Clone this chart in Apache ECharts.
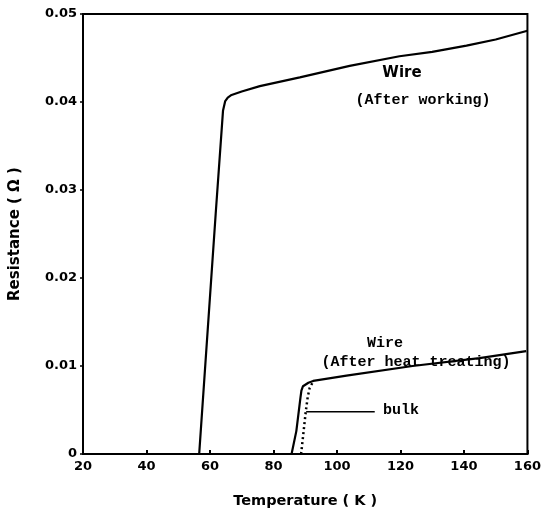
<!DOCTYPE html>
<html>
<head>
<meta charset="utf-8">
<script src="https://cdn.jsdelivr.net/npm/echarts@6/dist/echarts.min.js"></script>
<style>html,body{margin:0;padding:0;background:#fff;}#c{width:544px;height:520px;}</style>
</head>
<body>
<div id="c"></div>
<script>
// Wire (After working)
var workT = [20, 56.6, 58.9, 61.8, 64.1, 64.8, 65.6, 66.8, 70, 75.7, 88.3, 104, 119.7, 130, 140.8, 150, 160];
var workR = [0, 0, 0.0121, 0.0273, 0.0390, 0.0401, 0.0405, 0.0408, 0.0412, 0.0418, 0.0428, 0.0441, 0.0452, 0.0457, 0.0464, 0.0471, 0.0481];
// Wire (After heat treating)
var heatT = [20, 85.7, 87.2, 88.5, 88.8, 89.3, 89.9, 91, 92.5, 103, 123.8, 144.9, 159.6];
var heatR = [0, 0, 0.0026, 0.0064, 0.0072, 0.0077, 0.0079, 0.0081, 0.0083, 0.0089, 0.0100, 0.0109, 0.0117];
// bulk
var bulkT = [88.7, 89.5, 90.2, 90.8, 91.4, 92.3];
var bulkR = [0, 0.0026, 0.0049, 0.0065, 0.0075, 0.0081];
// bulk pointer line
var pointerT = [90.3, 111.9];
var pointerR = [0.0048, 0.0048];

var xTicks = [20, 40, 60, 80, 100, 120, 140, 160];
var yTicks = [0, 0.01, 0.02, 0.03, 0.04, 0.05];

function zip(a, b) { return a.map(function (v, i) { return [v, b[i]]; }); }

var chart = echarts.init(document.getElementById('c'), null, {renderer: 'canvas'});
var tickFont = {fontFamily: 'DejaVu Sans', fontWeight: 'bold', fontSize: 13, color: '#000'};
chart.setOption({
  animation: false,
  backgroundColor: '#fff',
  grid: {left: 83, right: 16, top: 14, bottom: 66, show: true, borderColor: '#000', borderWidth: 2, backgroundColor: 'transparent'},
  xAxis: {
    type: 'value', min: xTicks[0], max: xTicks[xTicks.length - 1], interval: 20,
    name: 'Temperature ( K )', nameLocation: 'middle', nameGap: 40,
    nameTextStyle: {fontFamily: 'DejaVu Sans', fontWeight: 'bold', fontSize: 14.5, color: '#000'},
    axisLine: {lineStyle: {color: '#000', width: 2}},
    axisTick: {inside: true, length: 4, lineStyle: {color: '#000', width: 2}},
    axisLabel: Object.assign({margin: 6}, tickFont),
    splitLine: {show: false}
  },
  yAxis: {
    type: 'value', min: yTicks[0], max: yTicks[yTicks.length - 1], interval: 0.01,
    name: 'Resistance ( Ω )', nameLocation: 'middle', nameGap: 60, nameRotate: 90,
    nameTextStyle: {fontFamily: 'DejaVu Sans', fontWeight: 'bold', fontSize: 15, color: '#000'},
    axisLine: {lineStyle: {color: '#000', width: 2}},
    axisTick: {inside: false, length: 3, lineStyle: {color: '#000', width: 1.5}},
    axisLabel: Object.assign({margin: 6, formatter: function (v) { return v === 0 ? '0' : v.toFixed(2); }}, tickFont),
    splitLine: {show: false}
  },
  series: [
    {type: 'line', data: zip(workT, workR), showSymbol: false, lineStyle: {color: '#000', width: 2.2}, z: 3},
    {type: 'line', data: zip(heatT, heatR), showSymbol: false, lineStyle: {color: '#000', width: 2.2}, z: 3},
    {type: 'line', data: zip(bulkT, bulkR), showSymbol: false, lineStyle: {color: '#000', width: 2.5, type: [2, 3]}, z: 3},
    {type: 'line', data: zip(pointerT, pointerR), showSymbol: false, lineStyle: {color: '#000', width: 1.5}, z: 3}
  ],
  graphic: [
    {type: 'text', x: 402, y: 73, style: {text: 'Wire', font: 'bold 15px "DejaVu Sans"', fill: '#000', align: 'center', verticalAlign: 'middle'}},
    {type: 'text', x: 423, y: 100, style: {text: '(After working)', font: 'bold 15px "Liberation Mono"', fill: '#000', align: 'center', verticalAlign: 'middle'}},
    {type: 'text', x: 385, y: 343, style: {text: 'Wire', font: 'bold 15px "Liberation Mono"', fill: '#000', align: 'center', verticalAlign: 'middle'}},
    {type: 'text', x: 416, y: 362, style: {text: '(After heat treating)', font: 'bold 15px "Liberation Mono"', fill: '#000', align: 'center', verticalAlign: 'middle'}},
    {type: 'text', x: 383, y: 410, style: {text: 'bulk', font: 'bold 15px "Liberation Mono"', fill: '#000', align: 'left', verticalAlign: 'middle'}}
  ]
});
</script>
</body>
</html>
